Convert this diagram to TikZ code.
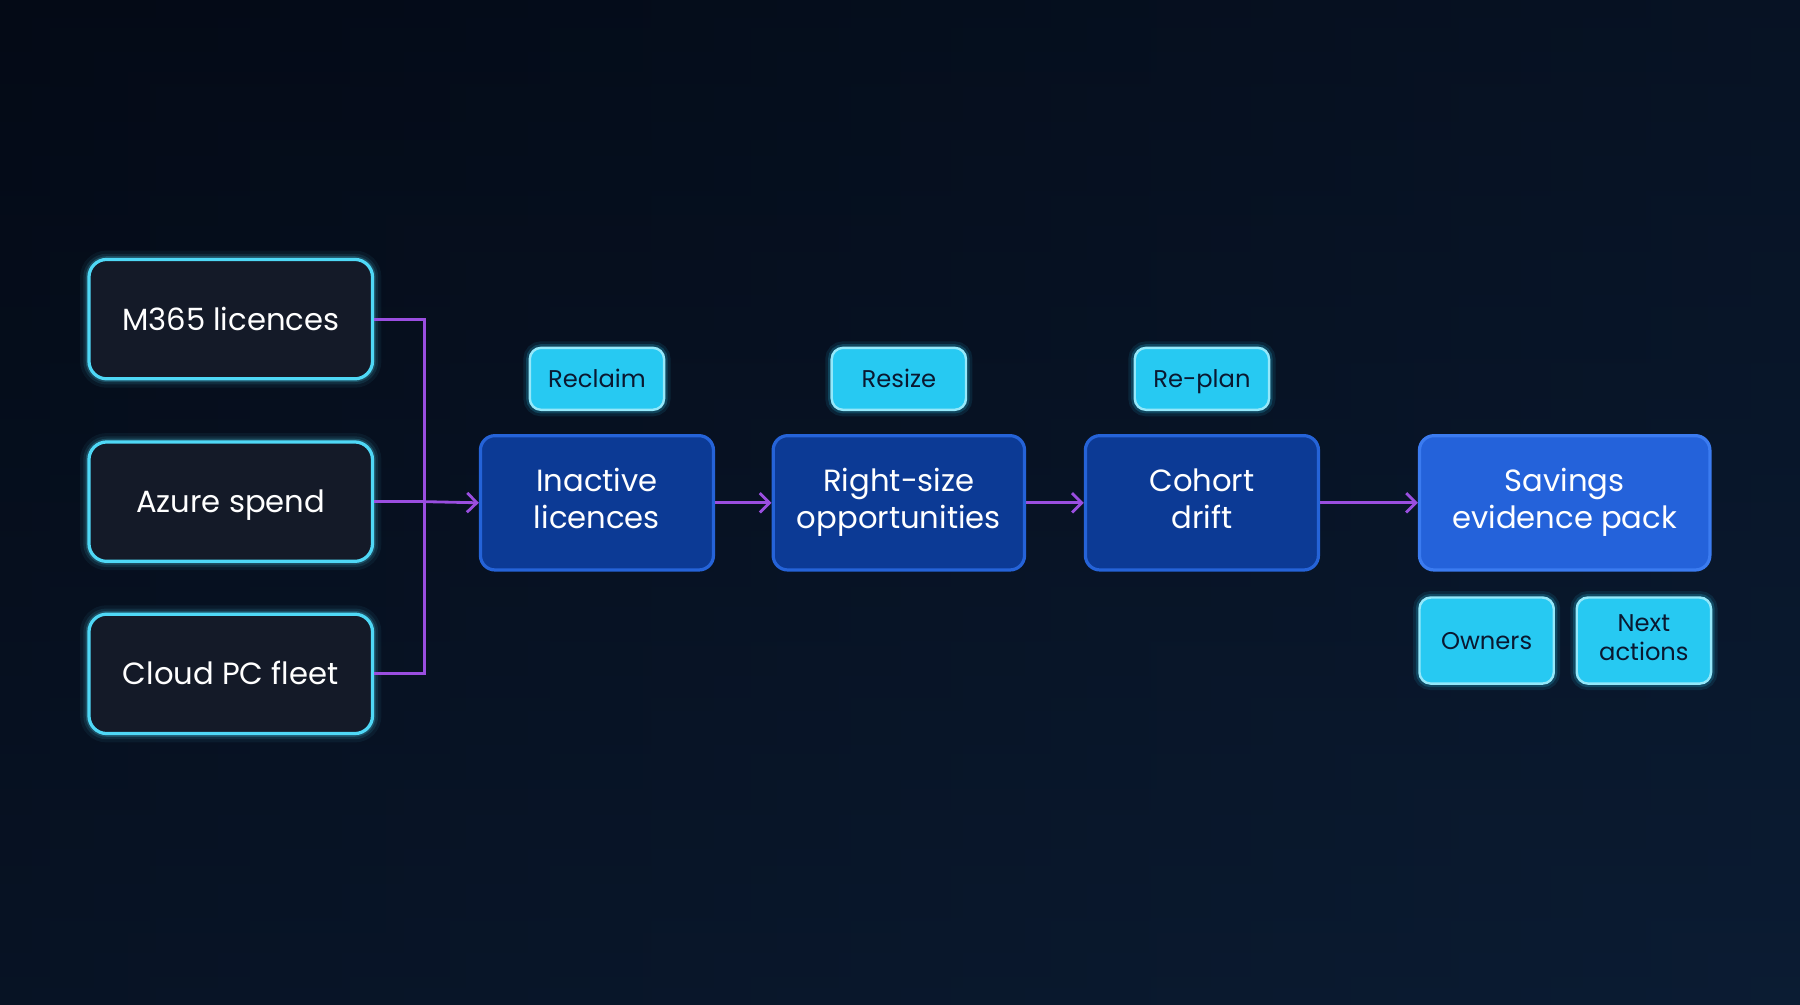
\documentclass[tikz,border=0pt]{standalone}
\usepackage{fontspec}
\setmainfont{Poppins}
\usetikzlibrary{arrows.meta,calc}
\definecolor{bgA}{HTML}{040A16}
\definecolor{bgB}{HTML}{0B1C33}
\definecolor{srcfill}{HTML}{141A28}
\definecolor{cyanb}{HTML}{4FD8F6}
\definecolor{mainfill}{HTML}{0C3A95}
\definecolor{mainb}{HTML}{2563D8}
\definecolor{savefill}{HTML}{2462DA}
\definecolor{savb}{HTML}{3B7BF0}
\definecolor{tagfill}{HTML}{27C9F2}
\definecolor{tagtext}{HTML}{0A1830}
\definecolor{purp}{HTML}{9A4EE0}
\begin{document}
\begin{tikzpicture}[x=0.05cm,y=-0.05cm,
  glow/.style={preaction={draw=cyanb,line width=22pt,opacity=0.06,rounded corners=22pt},
               preaction={draw=cyanb,line width=14pt,opacity=0.10,rounded corners=22pt},
               preaction={draw=cyanb,line width=8pt,opacity=0.2,rounded corners=22pt}},
  src/.style={glow,draw=cyanb,line width=4pt,fill=srcfill,rounded corners=22pt,
    minimum width=247*0.05cm,minimum height=104*0.05cm,text=white,
    font=\fontsize{38}{46}\selectfont,text height=27pt,text depth=0pt},
  main/.style={draw=mainb,line width=4pt,fill=mainfill,rounded corners=18pt,
    minimum height=117*0.05cm,text=white,font=\fontsize{38}{46}\selectfont,align=center},
  tag/.style={preaction={draw=tagfill,line width=16pt,opacity=0.1,rounded corners=14pt},
    preaction={draw=tagfill,line width=9pt,opacity=0.2,rounded corners=14pt},
    draw=cyanb!60!white,line width=3pt,fill=tagfill,rounded corners=14pt,
    minimum width=117*0.05cm,minimum height=54*0.05cm,text=tagtext,
    font=\fontsize{30}{36}\selectfont,align=center},
  stag/.style={tag,text height=21pt,text depth=0pt},
  con/.style={draw=purp,line width=3.5pt},
  arr/.style={con,-{Straight Barb[length=12pt,width=24pt,line width=3.5pt]}}]
\useasboundingbox (0,0) rectangle (1568,875);
\shade[left color=bgA,right color=bgB] (0,0) rectangle (1568,875);
\shade[top color=bgA,bottom color=bgB,opacity=0.5] (0,0) rectangle (1568,875);

\node[src] (m365) at (201,278) {M365 licences};
\node[src] (azure) at (201,437) {Azure spend};
\node[src] (cloud) at (201,587) {Cloud PC fleet};

\node[main,minimum width=203*0.05cm] (inact) at (520,438) {Inactive\strut\\licences\strut};
\node[main,minimum width=219*0.05cm] (right) at (783,438) {Right-size\strut\\opportunities\strut};
\node[main,minimum width=203*0.05cm] (cohort) at (1047,438) {Cohort\strut\\drift\strut};
\node[main,fill=savefill,draw=savb,minimum width=253*0.05cm] (save) at (1363,438) {Savings\strut\\evidence pack\strut};

\node[stag] (reclaim) at (520,330) {Reclaim};
\node[stag] (resize) at (783,330) {Resize};
\node[stag] (replan) at (1047,330) {Re-plan};
\node[stag,minimum height=75*0.05cm] (owners) at (1295,558) {Owners};
\node[tag,minimum height=75*0.05cm] (next) at (1432,558) {Next\strut\\actions\strut};

\coordinate (j) at (370,437);
\draw[con] (m365.east) -| (j);
\draw[con] (cloud.east) -| (j);
\draw[con] (azure.east) -- (j);
\draw[arr] (j) -- (inact.west);
\draw[arr] (inact) -- (right);
\draw[arr] (right) -- (cohort);
\draw[arr] (cohort) -- (save);
\end{tikzpicture}
\end{document}
